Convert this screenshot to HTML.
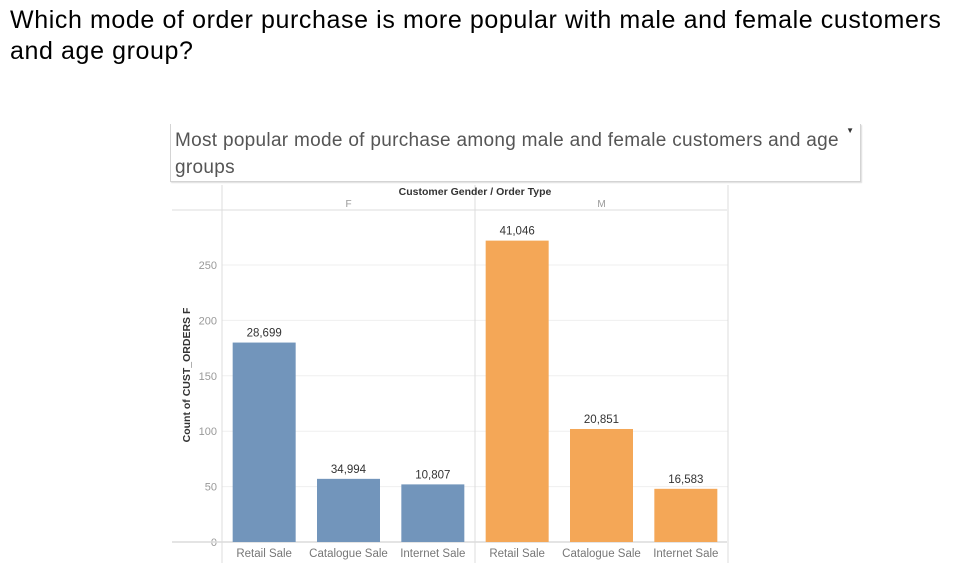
<!DOCTYPE html>
<html><head><meta charset="utf-8"><style>
body{margin:0;width:954px;height:572px;background:#fff;overflow:hidden;font-family:"Liberation Sans",sans-serif;}
#q{position:absolute;left:10px;top:5px;font-size:25px;line-height:31px;color:#000;letter-spacing:0.6px;}
#tbox{position:absolute;left:170px;top:124px;width:689px;height:57px;border:1px solid #d4d4d4;border-top:none;box-shadow:1px 1px 1px #ddd;}
#ttl{position:absolute;left:4px;top:3px;font-size:19px;line-height:27px;color:#555;letter-spacing:0.3px;}
#arr{position:absolute;right:6px;top:2px;font-size:8px;color:#333;}
</style></head><body>
<div id="q">Which mode of order purchase is more popular with male and female customers<br>and age group?</div>
<div id="tbox"><div id="ttl">Most popular mode of purchase among male and female customers and age<br>groups</div><div id="arr">▼</div></div>
<svg id="chart" width="954" height="572" style="position:absolute;left:0;top:0"></svg>
<script>
const genders=["F","M"];
const categories=["Retail Sale","Catalogue Sale","Internet Sale"];
const valuesF=[180,57,52];
const valuesM=[272,102,48];
const labelsF=["28,699","34,994","10,807"];
const labelsM=["41,046","20,851","16,583"];
const ticks=[0,50,100,150,200,250];
const colors=["#7295bb","#f4a757"];
const svg=document.getElementById('chart');
const NS="http://www.w3.org/2000/svg";
function mk(t,a,txt){const e=document.createElementNS(NS,t);for(const k in a)e.setAttribute(k,a[k]);if(txt!==undefined)e.textContent=txt;svg.appendChild(e);return e;}
const y0=542,pxPer=1.108;
const y=v=>y0-v*pxPer;
const plotL=222,panelW=253,bandW=panelW/3,barW=63;
const x=(g,i)=>plotL+g*panelW+i*bandW+(bandW-barW)/2;
ticks.forEach(t=>{
 if(t>0){const l=mk('line',{x1:plotL,x2:plotL+2*panelW,y1:y(t),y2:y(t),stroke:'#efefef','stroke-width':1});
 }
 const tx=mk('text',{x:217,y:y(t)+4,'text-anchor':'end','font-size':11,fill:'#999'},t);
 
});
[[172,210,727,210],[172,y0,727,y0],[plotL,185,plotL,563],[plotL+panelW,185,plotL+panelW,563],[plotL+2*panelW,185,plotL+2*panelW,563]].forEach((c,i)=>{
 const l=mk('line',{x1:c[0],y1:c[1],x2:c[2],y2:c[3],stroke:'#dcdcdc','stroke-width':i==1?1.5:1});
 
});
let h=mk('text',{x:475,y:195,'text-anchor':'middle','font-size':10.5,'font-weight':'bold',fill:'#333'},'Customer Gender  /  Order Type');

let yt=mk('text',{x:0,y:0,transform:'translate(190,375) rotate(-90)','text-anchor':'middle','font-size':10.5,'font-weight':'bold',fill:'#333'},'Count of CUST_ORDERS F');

genders.forEach((g,gi)=>{
 const gl=mk('text',{x:plotL+gi*panelW+panelW/2,y:207,'text-anchor':'middle','font-size':10,fill:'#999'},g);
 
 const vals=gi?valuesM:valuesF, labs=gi?labelsM:labelsF;
 categories.forEach((c,i)=>{
  const r=mk('rect',{x:x(gi,i),y:y(vals[i]),width:barW,height:vals[i]*pxPer,fill:colors[gi]});
  
  
  const t=mk('text',{x:x(gi,i)+barW/2,y:y(vals[i])-6,'text-anchor':'middle','font-size':11.5,fill:'#333'},labs[i]);
  
  
  const xl=mk('text',{x:x(gi,i)+barW/2,y:557,'text-anchor':'middle','font-size':11.5,fill:'#777'},c);
  
  
 });
});
</script>
</body></html>
